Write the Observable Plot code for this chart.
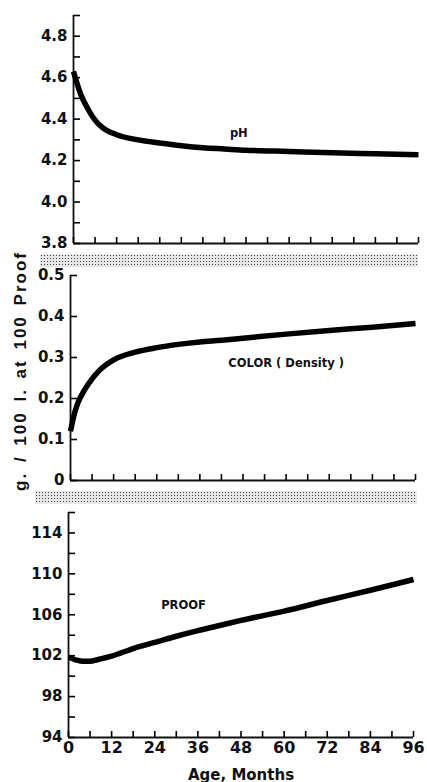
<!DOCTYPE html>
<html>
<head>
<meta charset="utf-8">
<script src="https://cdn.jsdelivr.net/npm/d3@7"></script>
<script src="https://cdn.jsdelivr.net/npm/@observablehq/plot@0.6"></script>
<style>
  html, body { margin: 0; padding: 0; background: #fff; }
  #wrap { position: relative; width: 427px; height: 782px; overflow: hidden; background: #fff; }
  #wrap svg { position: absolute; left: 0; }
  .band { position: absolute; height: 13px;
    background-color: #e6e6e6;
    background-image: radial-gradient(#444 0.75px, transparent 1px);
    background-size: 3px 3px; }
  #ytitle { position: absolute; left: 21px; top: 371px; transform: translate(-50%, -50%) rotate(-90deg);
    white-space: nowrap; font: bold 17px "Liberation Sans", sans-serif; letter-spacing: 2px; word-spacing: 3px; color: #111; }
</style>
</head>
<body>
<div id="wrap"></div>
<script>
// ---- data ----
const months = [0, 2, 4, 6, 8, 12, 18, 24, 30, 36, 42, 48, 60, 72, 84, 96];
const phValues = [4.63, 4.52, 4.45, 4.395, 4.36, 4.325, 4.30, 4.285, 4.272, 4.262, 4.256, 4.25, 4.244, 4.238, 4.233, 4.228];
const colorMonths = [0, 1, 2, 4, 6, 8, 12, 18, 24, 30, 36, 42, 48, 60, 72, 84, 96];
const colorValues = [0.12, 0.16, 0.188, 0.222, 0.248, 0.268, 0.294, 0.313, 0.324, 0.332, 0.338, 0.342, 0.347, 0.357, 0.366, 0.374, 0.383];
const proofValues = [101.85, 101.6, 101.45, 101.45, 101.6, 101.95, 102.7, 103.3, 103.9, 104.45, 104.95, 105.45, 106.35, 107.4, 108.4, 109.45];

const xTickMarks = d3.range(0, 97, 6);
const xTickLabels = [0, 12, 24, 36, 48, 60, 72, 84, 96];
const phTicks = [3.8, 4.0, 4.2, 4.4, 4.6, 4.8];
const phMinor = [3.9, 4.1, 4.3, 4.5, 4.7, 4.9];
const colorTicks = [0, 0.1, 0.2, 0.3, 0.4, 0.5];
const proofTicks = [94, 98, 102, 106, 110, 114];
const proofMinor = [96, 100, 104, 108, 112, 116];

const seriesLabels = ["pH", "COLOR ( Density )", "PROOF"];
const yTitle = "g. / 100 l. at 100 Proof";
const xTitle = "Age, Months";

const font = "DejaVu Sans, sans-serif";
const wrap = document.getElementById("wrap");

function panel({data, yDomain, yTicks, yMinor, yFormat, label, labelAt, top, height, mt, mb, ml, mr, bottom}) {
  const marks = [
    Plot.ruleX([0], {stroke: "#111", strokeWidth: 1.8}),
    Plot.ruleY([yDomain[0]], {stroke: "#111", strokeWidth: 1.8}),
    Plot.axisY(yTicks.concat(yMinor), {tickSize: -7, tickFormat: () => "", strokeWidth: 1.6, label: null}),
    Plot.axisY(yTicks, {tickSize: 0, tickPadding: 6, tickFormat: yFormat, fontSize: 15, fontWeight: "bold", fill: "#111", label: null}),
    Plot.axisX(xTickMarks, {tickSize: -6, tickFormat: () => "", strokeWidth: 1.6, label: null}),
    Plot.line(data, {x: "month", y: "value", strokeWidth: 5.5, stroke: "#000", curve: "monotone-x", strokeLinecap: "butt"}),
    Plot.text([label], {x: labelAt[0], y: labelAt[1], fontSize: 11.5, fontWeight: "bold", fill: "#111", style: "letter-spacing:1.8px"})
  ];
  if (bottom) {
    marks.push(Plot.axisX(xTickLabels, {tickSize: 0, tickPadding: 4, fontSize: 16, fontWeight: "bold", fill: "#111", label: null}));
    marks.push(Plot.text([xTitle], {frameAnchor: "bottom", dy: 42, fontSize: 15, fontWeight: "bold", fill: "#111", style: "letter-spacing:1px"}));
  }
  const svg = Plot.plot({
    width: 427, height,
    marginTop: mt, marginBottom: mb, marginLeft: ml, marginRight: mr,
    x: {domain: [0, 96]},
    y: {domain: yDomain},
    style: {background: "transparent", fontFamily: font, overflow: "visible"},
    marks
  });
  svg.style.top = top + "px";
  wrap.appendChild(svg);
}

panel({
  data: months.map((m, i) => ({month: m, value: phValues[i]})),
  yDomain: [3.8, 4.9], yTicks: phTicks, yMinor: phMinor, yFormat: d3.format(".1f"),
  label: seriesLabels[0], labelAt: [46, 4.33],
  top: 0, height: 252, mt: 15, mb: 9, ml: 73, mr: 9
});
panel({
  data: colorMonths.map((m, i) => ({month: m, value: colorValues[i]})),
  yDomain: [0, 0.5], yTicks: colorTicks, yMinor: [], yFormat: d => d === 0 ? "0" : d3.format(".1f")(d),
  label: seriesLabels[1], labelAt: [60, 0.285],
  top: 262, height: 226, mt: 13, mb: 8, ml: 70, mr: 12
});
panel({
  data: months.map((m, i) => ({month: m, value: proofValues[i]})),
  yDomain: [94, 116], yTicks: proofTicks, yMinor: proofMinor, yFormat: d3.format("d"),
  label: seriesLabels[2], labelAt: [32, 106.9],
  top: 500, height: 282, mt: 12, mb: 45, ml: 68, mr: 14, bottom: true
});

const b1 = document.createElement("div");
b1.className = "band"; b1.style.left = "40px"; b1.style.width = "378px"; b1.style.top = "254px";
wrap.appendChild(b1);
const b2 = document.createElement("div");
b2.className = "band"; b2.style.left = "35px"; b2.style.width = "382px"; b2.style.top = "491px";
wrap.appendChild(b2);

const yt = document.createElement("div");
yt.id = "ytitle"; yt.textContent = yTitle;
wrap.appendChild(yt);
</script>
</body>
</html>
